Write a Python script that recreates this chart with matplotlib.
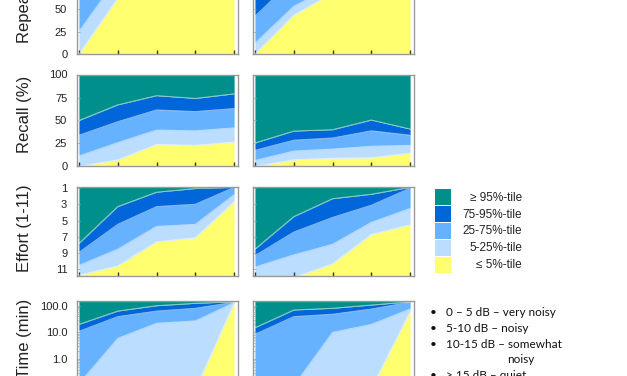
import matplotlib
matplotlib.use("Agg")
import matplotlib.pyplot as plt
from matplotlib.patches import Rectangle
from matplotlib.ticker import FixedLocator, FormatStrFormatter, LogLocator, NullFormatter

# ---------------- data ----------------
x_points = [0, 1, 2, 3, 4]
band_labels = ["\u2265 95%-tile", "75-95%-tile", "25-75%-tile", "5-25%-tile", "\u2264 5%-tile"]
band_colors = ["#008F8A", "#0066D9", "#66B2FF", "#BBDDFF", "#FFFF70"]  # top -> bottom

# percentile boundaries (p5, p25, p75, p95) per panel
repeat_left_p5 = [0, 62, 90, 95, 98]
repeat_left_p25 = [25, 85, 97, 98, 100]
repeat_left_p75 = [75, 98, 100, 100, 100]
repeat_left_p95 = [95, 100, 100, 100, 100]
repeat_right_p5 = [0, 43, 68, 85, 95]
repeat_right_p25 = [12, 53, 75, 90, 97]
repeat_right_p75 = [42, 83, 95, 98, 100]
repeat_right_p95 = [70, 97, 100, 100, 100]

recall_left_p5 = [0, 7.3, 24, 23, 26.7]
recall_left_p25 = [11.4, 26, 39.6, 38.8, 42]
recall_left_p75 = [34, 48.7, 61.5, 59.7, 63]
recall_left_p95 = [50, 67, 77, 74, 79]
recall_right_p5 = [0, 7.3, 9, 9.5, 14.6]
recall_right_p25 = [6.6, 16.8, 19, 22, 23]
recall_right_p75 = [17.6, 28.6, 31, 38.8, 34]
recall_right_p95 = [25.6, 38.5, 40, 50.5, 40.7]

effort_left_p5 = [11.7, 10.55, 7.6, 7.1, 2.65]
effort_left_p25 = [10.5, 8.5, 5.7, 5.45, 1.8]
effort_left_p75 = [8.9, 5.45, 3.27, 2.98, 0.9]
effort_left_p95 = [7.8, 3.27, 1.5, 1.05, 0.9]
effort_right_p5 = [12, 12, 10.3, 6.7, 5.5]
effort_right_p25 = [10.7, 9.2, 7.9, 5.2, 3.5]
effort_right_p75 = [9.3, 6.4, 4.6, 3.1, 1.0]
effort_right_p95 = [8.5, 4.5, 2.3, 1.75, 0.9]

time_left_p5 = [0.01, 0.01, 0.01, 0.07, 125]
time_left_p25 = [0.12, 6, 22, 27, 130]
time_left_p75 = [11, 39, 63, 80, 135]
time_left_p95 = [20, 63, 100, 123, 140]
time_right_p5 = [0.01, 0.01, 0.01, 0.08, 60]
time_right_p25 = [0.05, 0.1, 10, 20, 75]
time_right_p75 = [8.5, 39, 48, 75, 135]
time_right_p95 = [15, 69, 80, 106, 140]

row_labels = ["Repeat (%)", "Recall (%)", "Effort (1-11)", "Tot. Time (min)"]
pct_ticks = [0, 25, 50, 75, 100]
effort_ticks = [1, 3, 5, 7, 9, 11]
time_ticks = [0.1, 1.0, 10.0, 100.0]

notes = ["0 \u2013 5 dB \u2013 very noisy", "5-10 dB \u2013 noisy", "10-15 dB \u2013 somewhat",
         "\u2265 15 dB \u2013 quiet"]
note_wrap = "noisy"

# ---------------- layout ----------------
W, H = 627, 376
fig = plt.figure(figsize=(W / 100, H / 100), dpi=100)
AX_FONT = "Liberation Sans"


def add_ax(x0, y0, w, h):
    return fig.add_axes([x0 / W, 1 - (y0 + h) / H, w / W, h / H])


cols = [77, 253]
colw = 161
rows = [(-36, 90), (74.5, 92), (186.5, 89.5), (301, 90)]

panels = [
    [(repeat_left_p5, repeat_left_p25, repeat_left_p75, repeat_left_p95),
     (repeat_right_p5, repeat_right_p25, repeat_right_p75, repeat_right_p95)],
    [(recall_left_p5, recall_left_p25, recall_left_p75, recall_left_p95),
     (recall_right_p5, recall_right_p25, recall_right_p75, recall_right_p95)],
    [(effort_left_p5, effort_left_p25, effort_left_p75, effort_left_p95),
     (effort_right_p5, effort_right_p25, effort_right_p75, effort_right_p95)],
    [(time_left_p5, time_left_p25, time_left_p75, time_left_p95),
     (time_right_p5, time_right_p25, time_right_p75, time_right_p95)],
]
ylims = [(0, 100), (0, 100), (11.8, 0.8), (0.064, 150)]

for r, (ry, rh) in enumerate(rows):
    for c, cx in enumerate(cols):
        ax = add_ax(cx, ry, colw, rh)
        lo, hi = ylims[r]
        if r == 3:
            ax.set_yscale("log")
        p5, p25, p75, p95 = panels[r][c]
        bottom = [lo] * len(x_points)
        top = [hi] * len(x_points)
        layers = [bottom, p5, p25, p75, p95, top]
        fills = band_colors[::-1]
        for i in range(5):
            ax.fill_between(x_points, layers[i], layers[i + 1], color=fills[i], lw=0, zorder=1)
        for b in (p5, p25, p75, p95):
            ax.plot(x_points, b, color="white", alpha=0.55, lw=0.7, zorder=2)
        ax.set_xlim(-0.05, 4.1)
        ax.set_ylim(lo, hi)
        ax.set_xticks(x_points)
        ax.tick_params(axis="x", direction="in", length=3, width=1, color="#333333",
                       labelbottom=False)
        ax.tick_params(axis="y", direction="in", length=2, width=0.6, color="#aaaaaa",
                       labelsize=8, pad=7, labelcolor="#222222")
        ax.tick_params(axis="y", which="minor", direction="in", length=1.5, width=0.5,
                       color="#aaaaaa")
        for s in ax.spines.values():
            s.set_color("#999999")
            s.set_linewidth(1)
        if r in (0, 1):
            ax.yaxis.set_major_locator(FixedLocator(pct_ticks))
        elif r == 2:
            ax.yaxis.set_major_locator(FixedLocator(effort_ticks))
        else:
            ax.yaxis.set_major_locator(FixedLocator(time_ticks))
            ax.yaxis.set_major_formatter(FormatStrFormatter("%.1f"))
            ax.yaxis.set_minor_locator(LogLocator(base=10, subs=range(2, 10)))
            ax.yaxis.set_minor_formatter(NullFormatter())
        for lab in ax.get_yticklabels():
            lab.set_fontfamily(AX_FONT)
        if c == 1:
            ax.tick_params(axis="y", labelleft=False)

# row labels
lab_x = 25 / W
fig.text(lab_x, 1 - 43 / H, row_labels[0], rotation=90, ha="center", va="bottom",
         fontsize=12, family=AX_FONT, color="#222222")
fig.text(lab_x, 1 - 114 / H, row_labels[1], rotation=90, ha="center", va="center",
         fontsize=12, family=AX_FONT, color="#222222")
fig.text(lab_x, 1 - 228.5 / H, row_labels[2], rotation=90, ha="center", va="center",
         fontsize=12, family=AX_FONT, color="#222222")
fig.text(lab_x, 1 - 299 / H, row_labels[3], rotation=90, ha="center", va="top",
         fontsize=12, family=AX_FONT, color="#222222")

# legend
leg_x, leg_y0, sw, sh = 435, 189.3, 16, 16.8
for i, (lab, col) in enumerate(zip(band_labels, band_colors)):
    y = leg_y0 + i * sh
    fig.patches.append(Rectangle((leg_x / W, 1 - (y + sh - 0.8) / H), sw / W, (sh - 0.8) / H,
                                 transform=fig.transFigure, facecolor=col, edgecolor="none"))
    fig.text(522 / W, 1 - (y + sh / 2) / H, lab, ha="right", va="center",
             fontsize=8.5, family=AX_FONT, color="#222222")

# notes
note_y = [313, 328.5, 344, 375.5]
for t, y in zip(notes, note_y):
    fig.text(433 / W, 1 - y / H, "\u2022", ha="center", va="center", fontsize=8.5,
             family="Lato", color="#111111")
    fig.text(446 / W, 1 - y / H, t, ha="left", va="center", fontsize=8.5,
             family="Lato", color="#111111")
fig.text(507 / W, 1 - 359.5 / H, note_wrap, ha="left", va="center", fontsize=8.5,
         family="Lato", color="#111111")

fig.savefig("out.png", dpi=100)
